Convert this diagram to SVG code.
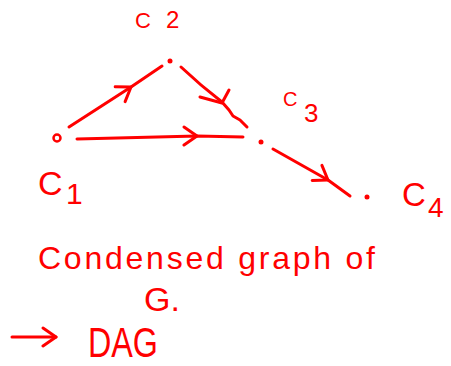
<svg xmlns="http://www.w3.org/2000/svg" width="451" height="366" viewBox="0 0 451 366">
<style>
.ln{fill:none;stroke:#ff0000;stroke-width:3;stroke-linecap:round;stroke-linejoin:round}
.t{fill:#ff0000;font-family:"Liberation Sans","DejaVu Sans",sans-serif}
</style>
<defs>
<marker id="chev" viewBox="-16 -12 18 24" refX="0" refY="0" markerWidth="18" markerHeight="24" markerUnits="userSpaceOnUse" orient="auto">
<path d="M-13,-9 L0,0 L-13,9" fill="none" stroke="#ff0000" stroke-width="3" stroke-linecap="round" stroke-linejoin="round"/>
</marker>
</defs>
<rect width="451" height="366" fill="#ffffff"/>
<g id="connectors">
<path class="ln" d="M69,127 L131,87 L162,66" marker-mid="url(#chev)"/>
<path class="ln" d="M77,139 L197,136 L243,137" marker-mid="url(#chev)"/>
<path class="ln" d="M181,67 Q200,85 222,102 L229,110 L233,116 L240,120 L247,127"/>
<path class="ln" d="M200,97 L222,103 L229,90"/>
<path class="ln" d="M273,149 L328,180 L350,196" marker-mid="url(#chev)"/>
</g>
<g id="c1">
<circle cx="57" cy="138" r="3.5" fill="none" stroke="#ff0000" stroke-width="2.5"/>
<text class="t" x="38" y="195" font-size="34">C<tspan x="66" y="204" font-size="30">1</tspan></text>
</g>
<g id="c2">
<circle cx="170" cy="61" r="2.5" fill="#ff0000"/>
<text class="t" x="135" y="28" font-size="22">C<tspan x="166" font-size="24">2</tspan></text>
</g>
<g id="c3">
<circle cx="261" cy="142" r="2.5" fill="#ff0000"/>
<text class="t" x="283" y="106" font-size="20">C<tspan x="304" y="122" font-size="26">3</tspan></text>
</g>
<g id="c4">
<circle cx="367" cy="197" r="2.5" fill="#ff0000"/>
<text class="t" x="402" y="206" font-size="33">C<tspan x="428" y="217" font-size="28">4</tspan></text>
</g>
<g id="caption">
<text class="t" x="38" y="269" font-size="32" textLength="337" lengthAdjust="spacing">Condensed graph of</text>
<text class="t" x="144" y="311" font-size="34">G.</text>
</g>
<g id="dag">
<path class="ln" d="M12,337 L56,337" marker-end="url(#chev)"/>
<text class="t" x="88" y="357" font-size="42" textLength="70" lengthAdjust="spacingAndGlyphs">DAG</text>
</g>
</svg>
